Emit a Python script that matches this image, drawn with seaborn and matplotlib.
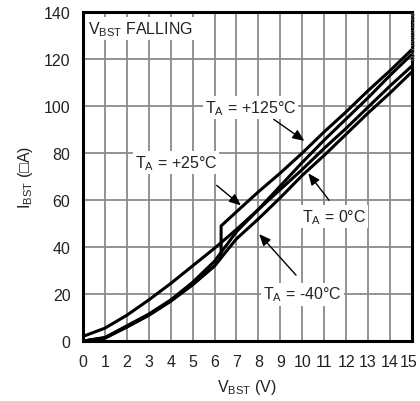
import numpy as np
import pandas as pd
import matplotlib
matplotlib.use("Agg")
import matplotlib.pyplot as plt
import matplotlib.transforms as mtransforms
import seaborn as sns

# supply current vs boost voltage
vbst = [0, 1, 2, 3, 4, 5, 6, 7, 8, 9, 10, 11, 12, 13, 14, 15]
ibst_125c = [0, 1.5, 6.5, 11.5, 17.5, 25, 34, 46.5, 56, 66, 76, 85.5, 94.5, 103.5, 113, 122]
ibst_0c = [2, 5.5, 11, 17.5, 24.5, 32, 39.5, 47.5, 56, 64.5, 73, 82, 90.5, 99.5, 108.5, 117]
ibst_m40c = [0, 1.5, 6, 11, 17, 24, 32, 43.5, 52, 61, 70.5, 79, 88, 97, 105.5, 114.5]
# +25C curve has a step near 6.3V
vbst_25c = [0, 1, 2, 3, 4, 5, 6, 6.3, 6.3, 7, 8, 9, 10, 11, 12, 13, 14, 15]
ibst_25c = [0, 1.2, 6, 11, 17, 24, 32, 35.5, 49, 55, 63.5, 71.5, 80, 89, 97.5, 106.5, 115, 124]

xticks = list(range(0, 16))
yticks = [0, 20, 40, 60, 80, 100, 120, 140]

sns.set_style("white")
plt.rcParams['font.family'] = ['Liberation Sans', 'DejaVu Sans']
plt.rcParams['mathtext.fontset'] = 'custom'
plt.rcParams['mathtext.rm'] = 'Liberation Sans'

FS = 11.5

fig = plt.figure(figsize=(4.2, 4.02), dpi=100)
ax = fig.add_axes([0.1976, 0.149, 0.7830, 0.8187])

curves = [
    (vbst, ibst_125c),
    (vbst, ibst_0c),
    (vbst, ibst_m40c),
    (vbst_25c, ibst_25c),
]
for xs, ys in curves:
    df = pd.DataFrame({"v": xs, "i": ys})
    sns.lineplot(data=df, x="v", y="i", ax=ax, color="black", linewidth=2.2,
                 estimator=None, sort=False, zorder=3)

ax.set_xlim(0, 15)
ax.set_ylim(0, 140)
ax.set_xticks(xticks)
ax.set_yticks(yticks)
ax.grid(True, color="#8a8a8a", linewidth=1.3, zorder=0)
ax.set_axisbelow(True)
for s in ax.spines.values():
    s.set_linewidth(2.2)
    s.set_color("black")
ax.tick_params(length=0, labelsize=FS, pad=9, colors="#222222")
# keep the last x label inside the figure
last = ax.get_xticklabels()[-1]
last.set_transform(last.get_transform() +
                   mtransforms.ScaledTranslation(-3 / 100, 0, fig.dpi_scale_trans))

ax.set_xlabel(r"$\mathregular{V_{BST}}$ (V)", fontsize=FS, color="#222222", labelpad=6)
ax.set_ylabel(r"$\mathregular{I_{BST}}$ (□A)", fontsize=FS, color="#222222", labelpad=6)

box = dict(facecolor="white", edgecolor="none", pad=1.5)
ax.text(0.25, 133, r"$\mathregular{V_{BST}}$ FALLING", fontsize=FS, ha="left",
        va="center", bbox=box, zorder=5, color="#222222")

arrow = dict(arrowstyle="-|>,head_length=0.7,head_width=0.3", color="black", lw=1.0)
labels = [
    (r"$\mathregular{T_A}$ = +125°C", (10.2, 84.5), (7.65, 99.5), (8.6, 95)),
    (r"$\mathregular{T_A}$ = +25°C", (7.3, 57), (4.25, 76), (6.0, 67)),
    (r"$\mathregular{T_A}$ = 0°C", (10.2, 72.3), (11.45, 53), (11.3, 59)),
    (r"$\mathregular{T_A}$ = -40°C", (7.95, 46.4), (10.0, 20), (9.8, 27.2)),
]
for txt, tip, pos, tail in labels:
    ax.text(pos[0], pos[1], txt, fontsize=FS, ha="center", va="center",
            bbox=box, zorder=5, color="#222222")
    ax.annotate("", xy=tip, xytext=tail, arrowprops=arrow, zorder=6)

fig.text(0.986, 0.91, "MAX15019 toc08", rotation=90, fontsize=4.5, color="#777777",
         ha="center", va="center")

fig.savefig("out.png", dpi=100)
